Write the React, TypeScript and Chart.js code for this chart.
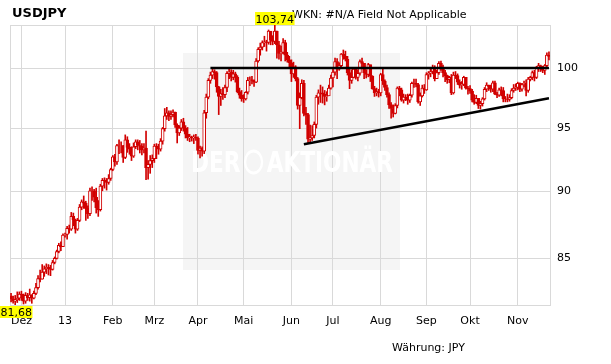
import { useEffect, useRef } from "react";
import { Chart, registerables } from "chart.js";

Chart.register(...registerables);

const titleText = "USDJPY";
const subtitleText = "WKN: #N/A Field Not Applicable";
const currencyText = "Währung: JPY";
const watermarkLeft = "DER";
const watermarkRight = "AKTIONÄR";

// first trading day of each month (index into the daily series) and its label
const monthTickIndex = [5, 26, 49, 69, 90, 112, 135, 155, 178, 200, 221, 244];
const monthTickLabels = ["Dez", "13", "Feb", "Mrz", "Apr", "Mai", "Jun", "Jul", "Aug", "Sep", "Okt", "Nov"];
const yTickValues = [85, 90, 95, 100];
const yMin = 81.68;
const yMax = 103.74;

const firstOpen = 82.3;

// daily closes, 26 Nov 2012 – 22 Nov 2013
const closes = [
  82.10, 81.95, 82.05, 82.15, 82.45,
  82.40, 81.95, 82.35, 82.20, 82.40, 82.15, 82.50, 82.90, 83.55, 83.50, 84.00, 84.25, 84.35, 84.35, 84.20, 84.70, 85.00, 85.50, 85.95, 85.85, 86.70,
  86.75, 87.20, 87.15, 88.10, 87.85, 87.15, 87.80, 88.80, 89.20, 89.10, 88.70, 88.30, 90.05, 90.05, 89.55, 88.75, 88.60, 90.40, 90.85, 90.80, 90.70, 91.00, 91.70,
  92.70, 92.30, 93.60, 93.60, 93.60, 92.65, 94.05, 93.45, 93.30, 92.75, 93.50, 93.90, 93.60, 93.55, 93.25, 93.40, 91.85, 92.10, 92.40, 92.55,
  93.55, 93.55, 93.30, 93.95, 94.95, 96.00, 96.25, 95.95, 96.10, 96.30, 95.25, 94.60, 95.00, 95.50, 95.00, 94.50, 94.20, 94.30, 94.20, 94.25, 94.20,
  93.20, 93.40, 93.15, 96.25, 97.55, 98.95, 99.40, 99.70, 99.60, 98.40, 97.60, 97.85, 97.75, 98.35, 99.55, 99.65, 99.20, 99.50, 99.20, 98.00, 97.70, 97.40,
  97.40, 97.95, 98.95, 99.00, 98.95, 98.80, 100.60, 101.60, 101.80, 102.20, 102.25, 102.20, 103.20, 102.40, 102.30, 103.20, 102.00, 101.25, 101.35, 102.20, 101.10, 100.70, 100.45,
  99.50, 100.10, 99.10, 96.85, 97.50, 98.70, 96.20, 96.10, 94.10, 94.20, 94.40, 95.30, 97.55, 97.90, 97.90, 97.80, 97.60, 97.65, 98.30, 99.15,
  99.65, 100.55, 99.90, 100.20, 101.20, 101.00, 100.75, 99.60, 98.95, 99.20, 99.90, 99.20, 99.55, 100.55, 100.40, 99.60, 99.45, 100.30, 99.30, 98.25, 97.90, 98.00, 97.90,
  99.45, 98.90, 98.35, 97.75, 96.90, 96.60, 96.20, 96.85, 98.30, 98.15, 97.30, 97.55, 97.55, 97.30, 97.70, 98.70, 98.70, 98.60, 97.15, 97.65, 98.30, 98.15,
  99.45, 99.55, 99.70, 100.05, 99.10, 99.60, 100.40, 100.00, 99.60, 99.35, 99.00, 99.20, 97.90, 99.40, 99.35, 98.80, 98.55, 98.60, 99.20, 98.30, 98.25,
  98.05, 97.30, 97.10, 97.45, 96.85, 97.00, 97.40, 98.20, 98.55, 98.45, 98.20, 98.75, 97.80, 97.70, 98.15, 98.10, 97.40, 97.40, 97.35, 97.50, 98.10, 98.30, 98.35,
  98.70, 98.20, 98.60, 98.70, 98.10, 99.05, 99.20, 99.60, 99.20, 100.00, 100.20, 100.00, 99.80, 100.20, 101.10, 101.00,
];

const highs = [
  82.50, 82.30, 82.35, 82.60, 82.60,
  82.65, 82.45, 82.55, 82.50, 82.80, 82.40, 82.65, 83.20, 83.75, 84.15, 84.55, 84.45, 84.60, 84.55, 84.50, 84.85, 85.10, 85.60, 86.10, 86.20, 86.80,
  86.85, 87.35, 87.45, 88.40, 88.35, 87.90, 87.95, 89.00, 89.35, 89.65, 89.25, 88.90, 90.25, 90.35, 90.15, 90.25, 89.30, 90.55, 91.00, 91.05, 91.00, 91.30, 91.80,
  92.80, 92.90, 93.70, 94.05, 93.90, 93.60, 94.45, 94.30, 93.75, 93.50, 93.80, 94.05, 94.05, 94.00, 93.75, 93.75, 94.75, 92.40, 92.80, 92.85,
  93.70, 93.75, 93.70, 94.15, 95.05, 96.60, 96.70, 96.40, 96.40, 96.50, 96.30, 95.35, 95.20, 95.70, 95.80, 95.20, 95.05, 94.50, 94.35, 94.45, 94.50,
  94.30, 93.55, 93.50, 96.45, 97.80, 99.10, 99.65, 99.95, 99.85, 99.70, 98.45, 98.20, 98.35, 98.55, 99.70, 99.90, 99.85, 99.80, 99.65, 99.35, 98.30, 98.10,
  97.75, 98.00, 99.20, 99.25, 99.30, 99.00, 100.80, 101.75, 102.15, 102.35, 102.75, 102.40, 103.30, 103.15, 102.80, 103.74, 103.20, 102.30, 101.90, 102.55, 102.40, 101.35, 101.00,
  100.70, 100.50, 100.20, 99.20, 97.90, 99.00, 98.95, 96.70, 96.20, 95.25, 95.20, 95.50, 97.70, 98.15, 98.55, 98.40, 98.10, 98.00, 98.55, 99.40,
  99.90, 100.85, 100.80, 100.45, 101.25, 101.55, 101.45, 101.00, 99.90, 99.85, 100.05, 99.95, 99.85, 100.70, 100.85, 100.35, 99.85, 100.40, 100.25, 99.35, 98.45, 98.30, 98.20,
  99.55, 99.95, 99.00, 98.55, 97.90, 97.10, 96.90, 97.00, 98.40, 98.45, 98.30, 97.80, 97.75, 97.80, 97.80, 98.80, 99.05, 99.05, 98.70, 97.90, 98.55, 98.60,
  99.60, 99.70, 99.90, 100.25, 100.20, 99.80, 100.55, 100.60, 100.25, 99.80, 99.40, 99.30, 99.45, 99.65, 99.70, 99.50, 99.00, 98.85, 99.30, 99.20, 98.45,
  98.50, 98.20, 97.75, 97.70, 97.40, 97.20, 97.50, 98.35, 98.75, 98.55, 98.55, 98.90, 98.90, 97.95, 98.30, 98.40, 98.35, 97.60, 97.80, 97.75, 98.25, 98.60, 98.65,
  98.80, 98.75, 98.70, 98.90, 99.00, 99.20, 99.30, 99.75, 99.80, 100.15, 100.40, 100.25, 100.15, 100.30, 101.30, 101.40,
];

const lows = [
  81.90, 81.80, 81.68, 81.85, 82.00,
  82.00, 81.75, 81.80, 82.00, 81.95, 81.80, 82.10, 82.40, 82.80, 83.30, 83.50, 83.70, 83.90, 83.80, 83.75, 84.15, 84.60, 84.95, 85.40, 85.55, 85.90,
  86.55, 86.40, 86.85, 87.05, 87.40, 86.85, 87.05, 87.70, 88.60, 88.70, 87.80, 87.95, 88.15, 89.30, 89.20, 88.35, 88.10, 88.50, 90.05, 90.25, 90.10, 90.55, 90.85,
  91.60, 91.95, 92.10, 92.95, 93.00, 92.25, 92.55, 93.05, 92.90, 92.40, 92.65, 93.35, 93.25, 93.00, 92.85, 93.00, 90.90, 90.95, 91.40, 91.85,
  92.25, 92.55, 92.90, 93.15, 93.70, 94.75, 95.70, 95.60, 95.70, 95.90, 95.05, 93.80, 94.40, 94.80, 94.75, 94.20, 94.00, 93.90, 93.95, 93.75, 94.00,
  92.90, 92.60, 92.75, 92.95, 95.80, 97.40, 98.70, 99.10, 99.05, 97.95, 96.10, 96.85, 97.35, 97.50, 98.00, 99.10, 98.90, 99.00, 98.80, 97.90, 97.45, 97.20,
  97.10, 97.30, 97.80, 98.50, 98.65, 98.45, 98.75, 100.50, 101.10, 101.55, 101.85, 101.45, 102.05, 102.00, 102.00, 102.10, 100.85, 100.75, 100.60, 101.20, 100.60, 100.50, 100.00,
  98.85, 99.20, 98.90, 96.55, 94.95, 97.40, 96.00, 95.30, 93.79, 93.85, 94.00, 94.20, 95.00, 96.95, 97.10, 97.05, 96.90, 97.20, 97.80, 98.20,
  98.40, 99.40, 99.10, 99.80, 100.05, 100.75, 100.60, 99.40, 98.25, 98.70, 99.15, 99.05, 98.90, 99.40, 100.00, 99.10, 99.15, 99.25, 98.85, 98.20, 97.60, 97.65, 97.55,
  97.65, 98.60, 98.10, 97.55, 96.60, 95.80, 95.90, 96.15, 96.65, 97.65, 97.20, 97.05, 97.25, 96.95, 97.10, 97.55, 98.35, 98.40, 97.05, 96.85, 97.55, 97.85,
  98.10, 99.05, 99.25, 99.50, 98.90, 99.20, 99.45, 99.80, 99.25, 98.85, 98.70, 98.75, 97.75, 97.80, 99.10, 98.60, 98.30, 98.20, 98.50, 98.20, 97.80,
  97.85, 97.15, 96.95, 97.00, 96.60, 96.55, 96.80, 97.30, 98.00, 98.10, 97.95, 98.00, 97.75, 97.50, 97.60, 97.65, 97.15, 97.15, 97.15, 97.20, 97.40, 97.95, 98.10,
  98.15, 98.00, 98.05, 98.40, 97.65, 97.95, 98.90, 99.00, 98.90, 99.10, 99.70, 99.70, 99.60, 99.45, 100.10, 100.70,
];

// drawn trend lines (index into the daily series, value)
const resistanceIdx = [96, 259];
const resistanceVal = [100.0, 100.0];
const supportIdx = [141, 259];
const supportVal = [93.7, 97.45];

const RED = "#d10000";
const GRID = "#d9d9d9";
const FONT = "'DejaVu Sans', Verdana, sans-serif";

const fmt = (v: number) => v.toFixed(2).replace(".", ",");

export default function App() {
  const ref = useRef<HTMLCanvasElement>(null);

  useEffect(() => {
    const opens = closes.map((_, i) => (i === 0 ? firstOpen : closes[i - 1]));
    const labels = closes.map((_, i) => String(i));
    const wickData = lows.map((l, i) => [l, highs[i]]);
    const bodyData = closes.map((c, i) => [opens[i], c]);
    const bodyFill = closes.map((c, i) => (c >= opens[i] ? "#ffffff" : RED));
    const resData: (number | null)[] = closes.map(() => null);
    resistanceIdx.forEach((ix, k) => (resData[ix] = resistanceVal[k]));
    const supData: (number | null)[] = closes.map(() => null);
    supportIdx.forEach((ix, k) => (supData[ix] = supportVal[k]));

    let maxI = 0;
    let minI = 0;
    highs.forEach((h, i) => { if (h > highs[maxI]) maxI = i; });
    lows.forEach((l, i) => { if (l < lows[minI]) minI = i; });

    const decor = {
      id: "decor",
      beforeDraw(chart: any) {
        const ctx = chart.ctx;
        ctx.save();
        ctx.fillStyle = "#ffffff";
        ctx.fillRect(0, 0, chart.width, chart.height);
        ctx.fillStyle = "#f5f5f5";
        ctx.fillRect(183, 53, 217, 217);
        ctx.restore();
      },
      beforeDatasetsDraw(chart: any) {
        const ctx = chart.ctx;
        const a = chart.chartArea;
        ctx.save();
        // watermark
        ctx.fillStyle = "#ffffff";
        ctx.font = `bold 28px ${FONT}`;
        ctx.textBaseline = "alphabetic";
        const wl = ctx.measureText(watermarkLeft).width;
        const wr = ctx.measureText(watermarkRight).width;
        const logo = 26;
        const total = wl + logo + wr + 8;
        const sx = 202 / total;
        ctx.translate(191, 172);
        ctx.scale(sx, 1);
        ctx.fillText(watermarkLeft, 0, 0);
        ctx.lineWidth = 3;
        ctx.strokeStyle = "#ffffff";
        ctx.beginPath();
        ctx.arc(wl + 4 + logo / 2, -10, 11, 0, Math.PI * 2);
        ctx.stroke();
        ctx.fillText(watermarkRight, wl + logo + 8, 0);
        ctx.restore();
        // plot frame
        ctx.save();
        ctx.strokeStyle = GRID;
        ctx.lineWidth = 1;
        ctx.strokeRect(Math.round(a.left) + 0.5, Math.round(a.top) + 0.5, Math.round(a.right - a.left), Math.round(a.bottom - a.top));
        ctx.restore();
      },
      afterDraw(chart: any) {
        const ctx = chart.ctx;
        const a = chart.chartArea;
        const xs = chart.scales.x;
        ctx.save();
        ctx.fillStyle = "#000";
        ctx.textBaseline = "alphabetic";
        ctx.textAlign = "left";
        ctx.font = `bold 13px ${FONT}`;
        ctx.fillText(titleText, 12, 17);
        ctx.font = `11px ${FONT}`;
        ctx.fillText(subtitleText, 292, 18);
        ctx.fillText(currencyText, 392, 351);
        // max / min labels
        const hiTxt = fmt(highs[maxI]);
        const loTxt = fmt(lows[minI]);
        const hw = ctx.measureText(hiTxt).width + 1;
        const lw = ctx.measureText(loTxt).width + 1;
        const hx = Math.max(0, xs.getPixelForValue(maxI) - hw / 2);
        const lx = Math.max(0, xs.getPixelForValue(minI) - lw / 2);
        ctx.fillStyle = "#ffff00";
        ctx.fillRect(hx, a.top - 13, hw, 13);
        ctx.fillRect(lx, a.bottom + 1, lw, 12);
        ctx.fillStyle = "#000";
        ctx.fillText(hiTxt, hx + 0.5, a.top - 2);
        ctx.fillText(loTxt, lx + 0.5, a.bottom + 11);
        ctx.restore();
      },
    };

    const chart = new Chart(ref.current as HTMLCanvasElement, {
      type: "bar",
      data: {
        labels,
        datasets: [
          {
            type: "line",
            data: resData,
            borderColor: "#000",
            borderWidth: 2.5,
            pointRadius: 0,
            spanGaps: true,
            order: 0,
          } as any,
          {
            type: "line",
            data: supData,
            borderColor: "#000",
            borderWidth: 2.5,
            pointRadius: 0,
            spanGaps: true,
            order: 0,
          } as any,
          {
            type: "bar",
            data: bodyData,
            backgroundColor: bodyFill,
            borderColor: RED,
            borderWidth: 1,
            borderSkipped: false,
            barThickness: 3,
            grouped: false,
            order: 1,
          } as any,
          {
            type: "bar",
            data: wickData,
            backgroundColor: RED,
            borderWidth: 0,
            barThickness: 1,
            grouped: false,
            order: 2,
          } as any,
        ],
      },
      options: {
        responsive: false,
        animation: false,
        devicePixelRatio: 1,
        layout: { padding: { left: 10, top: 25, right: 0, bottom: 0 }, autoPadding: false } as any,
        plugins: { legend: { display: false }, tooltip: { enabled: false }, title: { display: false } },
        font: { family: FONT, size: 11 } as any,
        scales: {
          x: {
            type: "category",
            offset: true,
            grid: { offset: false, color: GRID, drawTicks: false },
            border: { display: true, color: GRID },
            afterBuildTicks: (s: any) => {
              s.ticks = monthTickIndex.map((v) => ({ value: v }));
            },
            afterFit: (s: any) => {
              s.height = 59;
            },
            ticks: {
              autoSkip: false,
              maxRotation: 0,
              padding: 10,
              color: "#000",
              font: { family: FONT, size: 11 },
              callback: (v: any) => {
                const k = monthTickIndex.indexOf(Number(v));
                return k >= 0 ? monthTickLabels[k] : null;
              },
            },
          },
          y: {
            type: "logarithmic",
            position: "right",
            min: yMin,
            max: yMax,
            grid: { color: GRID, drawTicks: false },
            border: { display: true, color: GRID },
            afterBuildTicks: (s: any) => {
              s.ticks = yTickValues.map((v) => ({ value: v }));
            },
            afterFit: (s: any) => {
              s.width = 61;
            },
            ticks: {
              padding: 7,
              color: "#000",
              font: { family: FONT, size: 11 },
              callback: (v: any) => String(v),
            },
          },
        },
      } as any,
      plugins: [decor],
    });
    return () => chart.destroy();
  }, []);

  return (
    <div style={{ position: "absolute", left: 0, top: 0, width: 611, height: 364, background: "#fff" }}>
      <canvas ref={ref} width={611} height={364} style={{ display: "block", width: 611, height: 364 }} />
    </div>
  );
}
